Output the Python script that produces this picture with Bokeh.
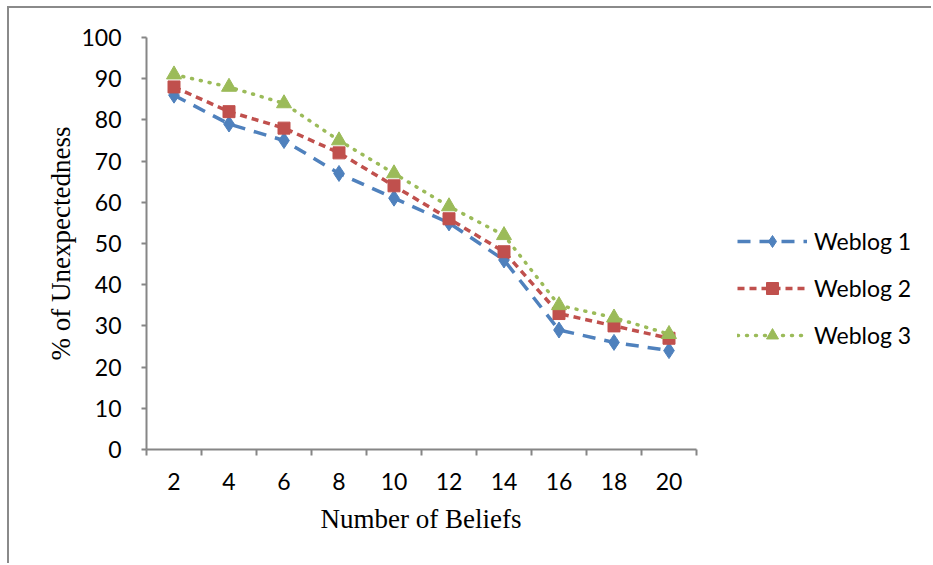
from bokeh.plotting import figure
from bokeh.models import FixedTicker, Legend, LegendItem, Range1d, Title
from bokeh.embed import file_html
from bokeh.resources import INLINE

beliefs = [2, 4, 6, 8, 10, 12, 14, 16, 18, 20]
weblog1 = [86, 79, 75, 67, 61, 55, 46, 29, 26, 24]
weblog2 = [88, 82, 78, 72, 64, 56, 48, 33, 30, 27]
weblog3 = [91, 88, 84, 75, 67, 59, 52, 35, 32, 28]
series_names = ["Weblog 1", "Weblog 2", "Weblog 3"]
y_ticks = [0, 10, 20, 30, 40, 50, 60, 70, 80, 90, 100]
x_title = "Number of Beliefs"
y_title = "% of Unexpectedness"

BLUE = "#4F81BD"
RED = "#C0504D"
GREEN = "#9BBB59"
AXIS = "#868686"
TICK_FONT = "Lato"

OX, OY = 9, 8
AXIS_LEFT_PX, AXIS_RIGHT_PX = 146, 696
px_per_unit = (AXIS_RIGHT_PX - AXIS_LEFT_PX) / 20.0
x_end = 1 + (933 - AXIS_LEFT_PX) / px_per_unit  # frame extends to page edge so the legend is not clipped

p = figure(width=933 - OX, height=565 - OY, output_backend="svg", toolbar_location=None,
           x_range=Range1d(1, x_end), y_range=Range1d(0, 100),
           min_border_left=AXIS_LEFT_PX - OX, min_border_right=0,
           min_border_top=37 - OY, min_border_bottom=565 - 449)
p.styles = {"border-left": "2px solid #8a8a8a", "border-top": "2px solid #8a8a8a",
            "margin-left": "7px", "margin-top": "6px"}
p.outline_line_color = None
p.grid.visible = False
p.background_fill_color = "white"
p.border_fill_color = "white"

# x axis: labels at category centres, ticks at category boundaries
xa = p.xaxis[0]
xa.bounds = (beliefs[0] - 1, beliefs[-1] + 1)
xa.ticker = FixedTicker(ticks=beliefs, minor_ticks=[b - 1 for b in beliefs] + [beliefs[-1] + 1])
xa.major_tick_line_color = None
xa.major_tick_out = 0
xa.major_tick_in = 0
xa.minor_tick_out = 6
xa.minor_tick_in = 0
xa.minor_tick_line_color = AXIS
xa.minor_tick_line_width = 2
xa.axis_line_color = AXIS
xa.axis_line_width = 2
xa.major_label_text_font = TICK_FONT
xa.major_label_text_font_size = "23px"
xa.major_label_text_color = "black"
xa.major_label_standoff = 17

# x-axis title centred under the axis line (not the wider frame)
xt = Title(text=x_title, align="left", offset=320 - AXIS_LEFT_PX, standoff=18,
           text_font="Liberation Serif", text_font_style="normal",
           text_font_size="27px", text_color="black")
p.add_layout(xt, "below")

ya = p.yaxis[0]
ya.ticker = FixedTicker(ticks=y_ticks)
ya.major_tick_out = 5
ya.major_tick_in = 0
ya.major_tick_line_color = AXIS
ya.major_tick_line_width = 2
ya.minor_tick_line_color = None
ya.axis_line_color = AXIS
ya.axis_line_width = 2
ya.major_label_text_font = TICK_FONT
ya.major_label_text_font_size = "23px"
ya.major_label_text_color = "black"
ya.major_label_standoff = 20
ya.axis_label = y_title
ya.axis_label_text_font = "Liberation Serif"
ya.axis_label_text_font_style = "normal"
ya.axis_label_text_font_size = "27px"
ya.axis_label_text_color = "black"
ya.axis_label_standoff = 2

l1 = p.line(beliefs, weblog1, line_color=BLUE, line_width=3.5, line_dash="13 9")
m1 = p.scatter(beliefs, weblog1, marker="diamond", size=16, fill_color=BLUE, line_color=BLUE)
l2 = p.line(beliefs, weblog2, line_color=RED, line_width=3.5, line_dash="7 5")
m2 = p.scatter(beliefs, weblog2, marker="square", size=12, fill_color=RED, line_color=RED)
l3 = p.line(beliefs, weblog3, line_color=GREEN, line_width=3.5, line_dash="1 8", line_cap="round")
m3 = p.scatter(beliefs, weblog3, marker="triangle", size=15, fill_color=GREEN, line_color=GREEN)

legend = Legend(items=[LegendItem(label=series_names[0], renderers=[l1, m1]),
                       LegendItem(label=series_names[1], renderers=[l2, m2]),
                       LegendItem(label=series_names[2], renderers=[l3, m3])],
                location=(737 - AXIS_LEFT_PX, 99), orientation="vertical",
                glyph_width=70, glyph_height=30, label_height=30,
                spacing=17, padding=0, margin=0, label_standoff=7,
                label_text_font=TICK_FONT, label_text_font_size="23px",
                label_text_color="black", border_line_color=None,
                background_fill_alpha=0)
p.add_layout(legend, "center")

open("out.html", "w").write(file_html(p, INLINE))
